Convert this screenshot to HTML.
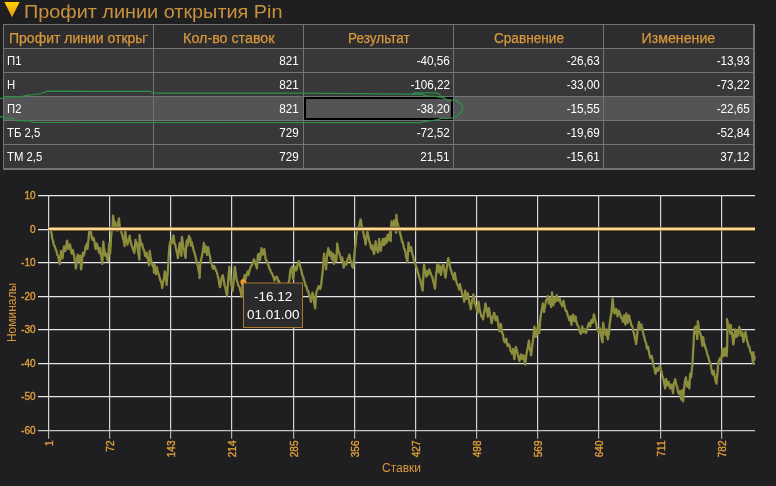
<!DOCTYPE html>
<html><head><meta charset="utf-8"><title>chart</title>
<style>
html,body{margin:0;padding:0;}
body{width:776px;height:486px;overflow:hidden;background:#1f1f21;font-family:"Liberation Sans",sans-serif;position:relative;}
.abs{position:absolute;}
#title{left:24px;top:0px;font-size:18.5px;line-height:24px;color:#c8923c;white-space:nowrap;}
#tbl{left:3px;top:24px;width:752px;height:146px;background:#737373;}
.cell{position:absolute;height:23px;line-height:23px;font-size:13px;white-space:nowrap;overflow:hidden;box-sizing:border-box;}
.h{background:#2d2d30;color:#d9983a;text-align:center;font-size:14px;line-height:27px;-webkit-text-stroke:0.25px #d9983a;}
.b{background:#38383b;color:#ffffff;text-align:right;padding-right:3px;}
.b.first{text-align:left;padding-left:3px;}
.sel{background:#545457;}
svg{position:absolute;left:0;top:0;will-change:transform;}
#tbl,#title{will-change:transform;}
.yl{font-size:10px;fill:#dc9c3c;text-anchor:end;stroke:#dc9c3c;stroke-width:0.4px;}
.xl{font-size:10px;fill:#dc9c3c;text-anchor:end;stroke:#dc9c3c;stroke-width:0.4px;}
</style></head><body>

<svg width="776" height="486" viewBox="0 0 776 486" style="z-index:0"><defs><linearGradient id="tg" x1="0" y1="0" x2="0" y2="1"><stop offset="0" stop-color="#ffd200"/><stop offset="1" stop-color="#e79a10"/></linearGradient></defs><path d="M4.4 2 L19.6 2 L12 17.2 Z" fill="url(#tg)"/></svg>
<div id="title" class="abs"><span style="display:inline-block;transform:scaleX(1.073);transform-origin:left center;">Профит линии открытия Pin</span></div>
<div id="tbl" class="abs">
<div class="cell h" style="left:1px;top:1px;width:149px;text-align:left;padding-left:5px;"><div style="width:138.5px;overflow:hidden;height:23px;"><span style="display:inline-block;transform:scaleX(1.0);transform-origin:left center;">Профит линии открытия Pin</span></div></div>
<div class="cell h" style="left:151px;top:1px;width:149px;"><span style="display:inline-block;transform:scaleX(1.02);transform-origin:center center;">Кол-во ставок</span></div>
<div class="cell h" style="left:301px;top:1px;width:149px;"><span style="display:inline-block;transform:scaleX(0.966);transform-origin:center center;">Результат</span></div>
<div class="cell h" style="left:451px;top:1px;width:149px;"><span style="display:inline-block;transform:scaleX(0.975);transform-origin:center center;">Сравнение</span></div>
<div class="cell h" style="left:601px;top:1px;width:149px;"><span style="display:inline-block;transform:scaleX(1.012);transform-origin:center center;">Изменение</span></div>
<div class="cell b first" style="left:1px;top:25px;width:149px;"><span style="display:inline-block;transform:scaleX(0.87);transform-origin:left center;">П1</span></div>
<div class="cell b" style="left:151px;top:25px;width:149px;padding-right:4px;"><span style="display:inline-block;transform:scaleX(0.9);transform-origin:right center;">821</span></div>
<div class="cell b" style="left:301px;top:25px;width:149px;"><span style="display:inline-block;transform:scaleX(0.9);transform-origin:right center;">-40,56</span></div>
<div class="cell b" style="left:451px;top:25px;width:149px;"><span style="display:inline-block;transform:scaleX(0.9);transform-origin:right center;">-26,63</span></div>
<div class="cell b" style="left:601px;top:25px;width:149px;"><span style="display:inline-block;transform:scaleX(0.9);transform-origin:right center;">-13,93</span></div>
<div class="cell b first" style="left:1px;top:49px;width:149px;"><span style="display:inline-block;transform:scaleX(0.87);transform-origin:left center;">Н</span></div>
<div class="cell b" style="left:151px;top:49px;width:149px;padding-right:4px;"><span style="display:inline-block;transform:scaleX(0.9);transform-origin:right center;">821</span></div>
<div class="cell b" style="left:301px;top:49px;width:149px;"><span style="display:inline-block;transform:scaleX(0.9);transform-origin:right center;">-106,22</span></div>
<div class="cell b" style="left:451px;top:49px;width:149px;"><span style="display:inline-block;transform:scaleX(0.9);transform-origin:right center;">-33,00</span></div>
<div class="cell b" style="left:601px;top:49px;width:149px;"><span style="display:inline-block;transform:scaleX(0.9);transform-origin:right center;">-73,22</span></div>
<div class="cell b first sel" style="left:1px;top:73px;width:149px;"><span style="display:inline-block;transform:scaleX(0.87);transform-origin:left center;">П2</span></div>
<div class="cell b sel" style="left:151px;top:73px;width:149px;padding-right:4px;"><span style="display:inline-block;transform:scaleX(0.9);transform-origin:right center;">821</span></div>
<div class="cell b sel" style="left:301px;top:73px;width:149px;"><span style="display:inline-block;transform:scaleX(0.9);transform-origin:right center;">-38,20</span></div>
<div class="cell b sel" style="left:451px;top:73px;width:149px;"><span style="display:inline-block;transform:scaleX(0.9);transform-origin:right center;">-15,55</span></div>
<div class="cell b sel" style="left:601px;top:73px;width:149px;"><span style="display:inline-block;transform:scaleX(0.9);transform-origin:right center;">-22,65</span></div>
<div class="cell b first" style="left:1px;top:97px;width:149px;"><span style="display:inline-block;transform:scaleX(0.87);transform-origin:left center;">ТБ 2,5</span></div>
<div class="cell b" style="left:151px;top:97px;width:149px;padding-right:4px;"><span style="display:inline-block;transform:scaleX(0.9);transform-origin:right center;">729</span></div>
<div class="cell b" style="left:301px;top:97px;width:149px;"><span style="display:inline-block;transform:scaleX(0.9);transform-origin:right center;">-72,52</span></div>
<div class="cell b" style="left:451px;top:97px;width:149px;"><span style="display:inline-block;transform:scaleX(0.9);transform-origin:right center;">-19,69</span></div>
<div class="cell b" style="left:601px;top:97px;width:149px;"><span style="display:inline-block;transform:scaleX(0.9);transform-origin:right center;">-52,84</span></div>
<div class="cell b first" style="left:1px;top:121px;width:149px;"><span style="display:inline-block;transform:scaleX(0.87);transform-origin:left center;">ТМ 2,5</span></div>
<div class="cell b" style="left:151px;top:121px;width:149px;padding-right:4px;"><span style="display:inline-block;transform:scaleX(0.9);transform-origin:right center;">729</span></div>
<div class="cell b" style="left:301px;top:121px;width:149px;"><span style="display:inline-block;transform:scaleX(0.9);transform-origin:right center;">21,51</span></div>
<div class="cell b" style="left:451px;top:121px;width:149px;"><span style="display:inline-block;transform:scaleX(0.9);transform-origin:right center;">-15,61</span></div>
<div class="cell b" style="left:601px;top:121px;width:149px;"><span style="display:inline-block;transform:scaleX(0.9);transform-origin:right center;">37,12</span></div>
</div>
<div class="abs" style="left:304px;top:97px;width:149px;height:23px;box-sizing:border-box;border:2px solid #000;"></div>
<svg width="776" height="486" viewBox="0 0 776 486" style="z-index:2">
<defs><linearGradient id="zg" x1="0" y1="0" x2="0" y2="1"><stop offset="0" stop-color="#2a2218"/><stop offset="0.1" stop-color="#5a3e14"/><stop offset="0.2" stop-color="#cf9a50"/><stop offset="0.34" stop-color="#f6d090"/><stop offset="0.5" stop-color="#fff0c4"/><stop offset="0.66" stop-color="#f6d090"/><stop offset="0.8" stop-color="#cf9a50"/><stop offset="0.9" stop-color="#5a3e14"/><stop offset="1" stop-color="#2a2218"/></linearGradient></defs>
<line x1="38" x2="755" y1="195.58" y2="195.58" stroke="#e6e6e6" stroke-width="1.16"/>
<text class="yl" x="35.5" y="199.0">10</text>
<line x1="38" x2="755" y1="229.58" y2="229.58" stroke="#e6e6e6" stroke-width="1.16"/>
<text class="yl" x="35.5" y="233.0">0</text>
<line x1="38" x2="755" y1="262.58" y2="262.58" stroke="#e6e6e6" stroke-width="1.16"/>
<text class="yl" x="35.5" y="266.0">-10</text>
<line x1="38" x2="755" y1="296.58" y2="296.58" stroke="#e6e6e6" stroke-width="1.16"/>
<text class="yl" x="35.5" y="300.0">-20</text>
<line x1="38" x2="755" y1="329.58" y2="329.58" stroke="#e6e6e6" stroke-width="1.16"/>
<text class="yl" x="35.5" y="333.0">-30</text>
<line x1="38" x2="755" y1="363.58" y2="363.58" stroke="#e6e6e6" stroke-width="1.16"/>
<text class="yl" x="35.5" y="367.0">-40</text>
<line x1="38" x2="755" y1="396.58" y2="396.58" stroke="#e6e6e6" stroke-width="1.16"/>
<text class="yl" x="35.5" y="400.0">-50</text>
<line x1="38" x2="755" y1="430.58" y2="430.58" stroke="#c6c6c6" stroke-width="1.16"/>
<text class="yl" x="35.5" y="434.0">-60</text>
<line x1="48.60" x2="48.60" y1="195" y2="431" stroke="#d4d4d4" stroke-width="1.2"/>
<line x1="48.60" x2="48.60" y1="431" y2="438.8" stroke="#b0b0b0" stroke-width="1.2"/>
<text class="xl" transform="translate(52.6 440.5) rotate(-90)" x="0" y="0">1</text>
<line x1="109.60" x2="109.60" y1="195" y2="431" stroke="#d4d4d4" stroke-width="1.2"/>
<line x1="109.60" x2="109.60" y1="431" y2="438.8" stroke="#b0b0b0" stroke-width="1.2"/>
<text class="xl" transform="translate(113.6 440.5) rotate(-90)" x="0" y="0">72</text>
<line x1="170.60" x2="170.60" y1="195" y2="431" stroke="#d4d4d4" stroke-width="1.2"/>
<line x1="170.60" x2="170.60" y1="431" y2="438.8" stroke="#b0b0b0" stroke-width="1.2"/>
<text class="xl" transform="translate(174.6 440.5) rotate(-90)" x="0" y="0">143</text>
<line x1="231.60" x2="231.60" y1="195" y2="431" stroke="#d4d4d4" stroke-width="1.2"/>
<line x1="231.60" x2="231.60" y1="431" y2="438.8" stroke="#b0b0b0" stroke-width="1.2"/>
<text class="xl" transform="translate(235.6 440.5) rotate(-90)" x="0" y="0">214</text>
<line x1="293.60" x2="293.60" y1="195" y2="431" stroke="#d4d4d4" stroke-width="1.2"/>
<line x1="293.60" x2="293.60" y1="431" y2="438.8" stroke="#b0b0b0" stroke-width="1.2"/>
<text class="xl" transform="translate(297.6 440.5) rotate(-90)" x="0" y="0">285</text>
<line x1="354.60" x2="354.60" y1="195" y2="431" stroke="#d4d4d4" stroke-width="1.2"/>
<line x1="354.60" x2="354.60" y1="431" y2="438.8" stroke="#b0b0b0" stroke-width="1.2"/>
<text class="xl" transform="translate(358.6 440.5) rotate(-90)" x="0" y="0">356</text>
<line x1="415.60" x2="415.60" y1="195" y2="431" stroke="#d4d4d4" stroke-width="1.2"/>
<line x1="415.60" x2="415.60" y1="431" y2="438.8" stroke="#b0b0b0" stroke-width="1.2"/>
<text class="xl" transform="translate(419.6 440.5) rotate(-90)" x="0" y="0">427</text>
<line x1="476.60" x2="476.60" y1="195" y2="431" stroke="#d4d4d4" stroke-width="1.2"/>
<line x1="476.60" x2="476.60" y1="431" y2="438.8" stroke="#b0b0b0" stroke-width="1.2"/>
<text class="xl" transform="translate(480.6 440.5) rotate(-90)" x="0" y="0">498</text>
<line x1="537.60" x2="537.60" y1="195" y2="431" stroke="#d4d4d4" stroke-width="1.2"/>
<line x1="537.60" x2="537.60" y1="431" y2="438.8" stroke="#b0b0b0" stroke-width="1.2"/>
<text class="xl" transform="translate(541.6 440.5) rotate(-90)" x="0" y="0">569</text>
<line x1="598.60" x2="598.60" y1="195" y2="431" stroke="#d4d4d4" stroke-width="1.2"/>
<line x1="598.60" x2="598.60" y1="431" y2="438.8" stroke="#b0b0b0" stroke-width="1.2"/>
<text class="xl" transform="translate(602.6 440.5) rotate(-90)" x="0" y="0">640</text>
<line x1="660.60" x2="660.60" y1="195" y2="431" stroke="#d4d4d4" stroke-width="1.2"/>
<line x1="660.60" x2="660.60" y1="431" y2="438.8" stroke="#b0b0b0" stroke-width="1.2"/>
<text class="xl" transform="translate(664.6 440.5) rotate(-90)" x="0" y="0">711</text>
<line x1="721.60" x2="721.60" y1="195" y2="431" stroke="#d4d4d4" stroke-width="1.2"/>
<line x1="721.60" x2="721.60" y1="431" y2="438.8" stroke="#b0b0b0" stroke-width="1.2"/>
<text class="xl" transform="translate(725.6 440.5) rotate(-90)" x="0" y="0">782</text>
<path d="M49.6 229.6 L50.5 229.6 L51.3 232.2 L51.8 235.2 L52.1 238.2 L53.0 240.6 L53.3 242.6 L53.9 245.2 L54.7 246.0 L55.5 249.1 L56.5 250.9 L57.3 254.9 L57.9 255.6 L58.2 255.8 L59.0 261.2 L59.7 263.9 L60.8 254.1 L61.0 250.9 L61.6 252.8 L62.5 258.3 L63.4 251.2 L64.0 246.3 L65.3 250.9 L65.9 248.4 L66.8 241.8 L67.2 240.7 L67.7 244.5 L68.4 249.1 L69.4 247.0 L69.9 244.4 L70.2 245.6 L71.1 250.9 L71.8 253.7 L72.7 250.0 L73.7 253.8 L74.6 259.3 L75.1 261.1 L75.4 263.1 L75.8 268.5 L76.3 266.1 L77.1 257.9 L77.7 254.6 L78.0 256.8 L78.9 258.8 L79.2 261.1 L79.7 258.6 L80.1 255.6 L80.6 262.1 L81.0 269.4 L81.5 267.0 L82.3 256.7 L82.9 252.8 L83.2 254.8 L83.8 255.6 L84.9 250.8 L85.7 246.3 L86.6 244.9 L87.0 243.5 L87.5 249.1 L88.3 241.4 L89.4 229.6 L90.1 231.8 L90.7 231.5 L90.9 232.0 L91.8 237.8 L92.5 239.8 L93.6 238.0 L94.4 241.2 L95.2 247.2 L95.8 249.1 L96.1 246.7 L96.8 243.5 L97.8 246.8 L98.7 251.3 L99.2 252.8 L99.6 249.6 L99.9 248.2 L100.4 252.4 L101.3 256.4 L102.3 263.9 L103.0 247.1 L103.3 241.7 L103.9 247.4 L104.7 251.6 L105.1 255.6 L105.6 255.1 L106.0 253.7 L106.5 254.8 L107.3 259.3 L107.9 261.1 L108.2 256.8 L109.2 243.5 L110.1 253.7 L110.8 242.9 L111.0 237.0 L111.6 232.6 L112.5 227.8 L113.1 215.7 L113.3 217.3 L114.4 227.8 L115.3 222.2 L115.9 225.5 L116.8 228.2 L117.2 230.6 L117.7 227.8 L118.5 221.0 L119.0 218.5 L119.4 223.4 L120.0 228.1 L121.0 231.2 L122.1 234.3 L122.8 237.9 L123.1 238.4 L123.7 240.4 L124.1 243.0 L124.6 246.1 L125.2 231.2 L125.4 232.2 L126.0 237.4 L126.3 239.7 L126.7 242.0 L127.1 242.3 L127.4 244.6 L128.2 241.5 L128.9 238.6 L129.8 235.8 L130.3 240.5 L130.6 240.9 L131.3 244.6 L132.4 247.2 L133.4 250.8 L134.0 251.2 L134.4 252.8 L134.9 247.6 L135.5 239.9 L135.8 241.1 L136.3 245.6 L136.6 245.1 L137.0 243.0 L137.7 249.2 L138.6 254.9 L139.4 259.5 L139.6 234.8 L140.1 239.0 L140.4 240.5 L141.1 245.1 L141.9 243.6 L142.7 247.2 L143.7 249.7 L144.4 251.3 L144.7 253.9 L145.2 255.7 L145.8 256.4 L146.1 254.5 L146.6 252.8 L147.0 256.5 L147.3 258.0 L147.8 258.3 L148.3 261.1 L148.7 263.6 L149.1 265.2 L149.7 250.8 L150.4 255.9 L151.1 260.1 L152.0 264.2 L153.0 266.8 L153.8 264.2 L153.9 272.5 L154.9 265.3 L155.6 271.3 L156.0 274.1 L156.4 270.0 L157.0 267.4 L157.3 269.5 L158.0 272.5 L159.1 275.6 L160.1 279.7 L160.8 281.6 L161.1 281.8 L161.6 283.7 L162.2 288.0 L162.5 286.1 L162.9 282.8 L163.3 280.5 L163.9 278.7 L164.2 277.1 L164.7 271.5 L165.1 272.0 L165.8 276.6 L166.6 284.9 L167.3 275.6 L167.7 273.5 L168.0 268.4 L168.4 261.2 L169.0 251.8 L169.5 245.6 L170.3 241.5 L171.0 244.1 L171.6 239.4 L172.0 240.5 L172.6 243.0 L173.4 235.3 L173.7 236.7 L174.1 240.5 L174.5 243.2 L174.8 243.6 L175.4 245.5 L175.7 247.2 L176.5 250.8 L177.2 253.9 L177.9 258.0 L178.8 250.8 L179.6 243.0 L180.3 248.2 L180.6 249.1 L181.0 252.8 L181.4 255.9 L181.9 236.9 L182.3 239.6 L182.7 242.5 L183.4 247.2 L184.1 249.7 L184.9 254.9 L185.6 258.0 L186.0 248.7 L186.8 240.5 L187.5 245.6 L188.0 242.5 L188.3 240.9 L188.9 235.8 L189.2 237.0 L189.6 240.5 L190.3 238.4 L190.9 245.6 L191.7 242.0 L192.4 245.6 L192.7 245.6 L193.2 248.2 L193.5 250.3 L194.2 251.8 L195.3 255.9 L196.3 260.1 L197.0 263.8 L197.3 264.2 L197.8 265.0 L198.3 268.3 L198.7 270.7 L199.4 273.4 L199.6 278.0 L200.2 265.0 L201.1 259.4 L202.1 255.1 L203.0 250.2 L203.9 242.8 L204.8 252.0 L205.6 249.7 L206.1 246.5 L206.4 248.8 L207.0 254.8 L207.3 253.9 L208.2 247.4 L209.0 252.9 L209.4 254.8 L209.9 255.9 L210.8 262.0 L211.3 263.1 L211.6 262.9 L212.5 267.7 L213.2 268.7 L214.1 265.9 L215.1 267.5 L215.9 270.6 L216.8 272.0 L217.8 276.1 L218.5 278.7 L219.4 284.5 L220.0 287.2 L221.1 281.8 L221.5 278.9 L222.0 277.0 L222.8 275.2 L223.7 279.5 L224.3 283.5 L224.5 285.7 L225.4 287.3 L226.3 292.8 L227.0 295.6 L228.0 283.7 L228.5 276.1 L228.9 271.8 L229.4 266.9 L229.7 270.2 L230.7 279.8 L231.4 285.2 L232.3 288.3 L232.6 290.9 L233.2 285.9 L234.1 276.1 L234.8 266.9 L235.8 272.9 L236.3 278.0 L236.6 279.8 L237.5 281.9 L238.2 285.4 L239.2 286.5 L240.2 289.8 L240.9 292.8 L241.5 296.3 L241.8 294.3 L242.6 284.7 L243.0 282.4 L243.5 280.7 L244.4 275.9 L244.8 275.0 L245.2 277.8 L245.7 278.7 L246.1 276.2 L247.0 274.8 L247.6 271.3 L248.5 275.0 L249.5 270.4 L250.4 267.6 L251.3 265.6 L252.2 264.8 L253.0 261.8 L254.1 259.3 L254.7 260.9 L255.6 264.8 L256.4 266.2 L256.9 268.5 L257.3 263.5 L257.8 255.6 L258.2 254.3 L259.3 253.7 L260.0 260.2 L260.7 255.2 L261.5 248.2 L262.5 253.5 L263.0 254.6 L263.3 252.1 L264.3 249.1 L265.1 254.3 L265.6 259.3 L265.9 260.1 L266.8 260.3 L267.0 261.1 L267.6 263.7 L268.5 265.1 L268.9 266.7 L269.4 269.0 L270.2 269.5 L270.7 271.3 L271.1 272.5 L272.0 273.3 L272.6 275.0 L273.7 277.5 L274.4 280.6 L275.4 277.7 L276.3 276.9 L277.1 277.0 L278.0 280.7 L278.5 280.6 L278.9 280.8 L279.7 284.1 L280.6 284.8 L280.9 286.1 L281.4 287.0 L282.3 286.7 L283.2 289.4 L283.7 288.9 L284.0 288.2 L284.9 288.7 L285.7 286.9 L286.5 287.0 L287.5 284.2 L288.3 283.3 L289.3 280.6 L290.2 271.3 L290.9 268.4 L291.8 268.5 L292.0 266.7 L292.6 274.1 L293.0 278.7 L293.5 276.3 L294.4 268.5 L294.8 266.7 L295.2 268.2 L296.3 270.4 L297.0 268.0 L297.6 263.9 L298.9 261.1 L299.5 263.1 L300.4 267.6 L301.3 270.1 L302.2 275.0 L303.0 276.5 L304.1 280.6 L304.7 281.9 L305.6 286.1 L305.9 286.1 L306.4 286.3 L307.3 290.5 L307.8 290.7 L308.2 290.9 L309.0 295.0 L309.6 296.3 L309.9 296.2 L310.9 301.9 L311.6 296.4 L312.4 292.6 L313.3 296.1 L313.7 299.1 L314.2 302.8 L315.2 308.3 L316.1 293.5 L316.8 290.9 L317.4 289.8 L318.5 286.3 L318.9 286.1 L319.4 287.9 L320.4 288.9 L321.1 284.9 L321.5 281.5 L322.0 277.1 L322.8 270.4 L323.7 258.4 L324.1 253.7 L324.5 257.9 L325.2 261.1 L326.1 269.4 L327.0 255.6 L328.0 250.6 L328.3 248.2 L328.8 250.6 L329.6 255.6 L330.7 251.8 L331.4 256.9 L332.0 259.3 L332.3 256.7 L333.0 253.7 L333.9 263.9 L334.8 255.6 L335.7 258.6 L336.3 261.1 L336.6 255.8 L337.2 243.5 L338.5 251.8 L339.2 252.5 L340.0 255.6 L340.9 258.6 L341.3 261.1 L341.8 260.3 L342.2 257.4 L342.6 259.4 L343.7 267.6 L344.4 264.1 L345.0 262.0 L346.3 264.8 L347.0 262.5 L347.8 258.3 L348.7 257.3 L349.3 254.6 L349.5 255.2 L350.6 261.1 L351.3 262.6 L351.9 264.8 L352.1 266.3 L353.0 267.6 L353.9 259.3 L354.9 249.3 L355.6 244.4 L356.0 239.0 L356.4 235.0 L357.0 231.8 L357.3 230.7 L357.7 227.2 L358.2 227.4 L358.6 229.7 L359.0 228.1 L359.6 224.1 L359.9 222.0 L360.6 219.4 L361.6 224.6 L362.5 229.7 L363.5 233.3 L364.2 237.6 L364.5 238.0 L365.1 240.1 L365.6 244.7 L365.9 242.4 L366.6 235.9 L367.4 231.8 L368.4 237.0 L369.4 241.1 L370.4 244.7 L371.1 248.2 L371.4 248.8 L371.9 246.4 L372.5 245.2 L372.8 248.6 L373.2 251.4 L373.7 252.0 L374.0 254.0 L374.5 251.7 L374.9 248.3 L375.6 241.1 L376.3 246.2 L377.1 249.3 L377.9 252.4 L378.7 246.2 L379.2 239.0 L379.7 244.0 L380.0 245.2 L380.7 250.9 L381.4 246.2 L382.3 241.1 L383.1 239.0 L383.8 245.2 L384.5 239.0 L384.9 241.4 L385.4 243.7 L385.7 240.2 L386.2 238.0 L386.6 240.9 L386.9 242.1 L387.6 234.9 L388.4 240.1 L389.3 235.9 L390.0 231.8 L390.7 241.1 L391.1 225.6 L391.6 221.5 L392.1 227.2 L392.8 223.6 L393.4 228.7 L394.1 220.5 L394.6 225.6 L395.5 222.5 L396.0 232.8 L396.4 214.8 L396.9 221.1 L397.2 222.5 L397.8 223.4 L398.2 225.6 L398.7 228.4 L399.3 229.7 L399.5 230.2 L400.3 233.9 L401.3 238.0 L402.1 241.9 L402.4 241.6 L403.0 243.1 L403.4 245.2 L403.8 247.6 L404.4 249.3 L404.7 249.1 L405.5 252.9 L406.1 257.4 L406.4 257.3 L407.4 262.0 L408.2 248.6 L408.5 242.6 L409.0 246.4 L409.8 250.9 L410.9 247.0 L411.6 250.0 L412.2 253.5 L413.3 256.9 L413.7 259.1 L414.2 261.6 L415.0 262.6 L415.6 264.6 L415.9 266.6 L416.8 267.9 L417.4 271.1 L418.5 274.4 L419.3 277.6 L420.2 279.8 L421.1 284.1 L421.9 287.3 L422.6 290.6 L423.3 277.6 L423.7 270.6 L424.1 264.6 L424.5 267.7 L425.2 270.2 L426.3 276.7 L427.2 271.1 L428.1 274.8 L428.8 271.4 L429.4 269.3 L429.7 270.9 L430.7 273.0 L431.4 275.6 L432.2 276.7 L433.2 281.3 L433.7 283.1 L434.0 283.9 L435.0 288.7 L435.9 275.7 L436.6 271.5 L437.4 263.7 L438.3 270.0 L438.7 272.0 L439.2 267.5 L439.6 265.6 L440.0 269.3 L440.9 274.8 L441.9 268.3 L442.6 265.6 L443.3 264.6 L444.4 271.1 L445.2 276.5 L445.6 277.6 L446.1 272.9 L446.7 268.3 L446.9 267.7 L447.8 260.3 L448.3 258.1 L448.7 260.4 L449.5 263.4 L449.8 265.6 L450.4 268.7 L451.1 270.2 L452.1 273.9 L452.6 274.8 L453.0 275.7 L453.9 279.4 L454.8 273.0 L455.6 278.3 L456.3 281.3 L457.3 284.8 L457.8 285.0 L458.1 285.2 L459.1 289.6 L460.0 284.1 L460.7 288.2 L461.5 290.6 L462.5 295.3 L462.8 295.2 L463.3 296.5 L464.3 301.7 L465.2 290.6 L465.9 296.2 L466.5 298.9 L466.8 296.6 L467.8 293.3 L468.5 297.1 L469.3 302.6 L470.2 305.6 L470.7 309.1 L471.1 307.9 L472.0 300.7 L472.8 298.0 L473.3 294.3 L473.7 295.6 L474.5 302.8 L474.8 303.5 L475.4 304.9 L476.3 308.1 L477.1 310.3 L477.6 312.8 L478.0 308.6 L478.5 301.7 L478.8 303.0 L479.7 310.0 L480.0 310.9 L480.6 312.4 L481.3 316.5 L482.3 316.7 L483.1 319.3 L484.1 312.8 L484.9 308.0 L485.4 303.5 L485.7 304.5 L486.6 310.5 L486.9 310.9 L487.5 313.8 L487.8 316.5 L488.3 312.9 L488.7 308.1 L489.2 309.6 L490.0 314.6 L490.9 318.7 L491.5 323.0 L491.8 322.8 L492.8 316.5 L493.5 315.4 L494.1 312.8 L494.4 313.2 L495.2 319.1 L495.6 320.2 L496.1 318.2 L497.0 316.5 L497.8 320.9 L498.3 324.8 L498.7 327.2 L499.6 331.3 L500.4 326.8 L500.7 323.9 L501.2 326.0 L502.0 332.2 L503.0 334.7 L503.3 336.9 L503.8 340.0 L504.8 342.4 L505.6 341.8 L506.3 338.7 L507.3 345.4 L507.6 346.1 L508.1 344.9 L508.9 344.3 L509.9 346.9 L510.4 349.8 L510.7 351.1 L511.6 351.7 L511.9 353.5 L512.5 351.9 L513.1 348.9 L514.2 357.5 L514.4 359.1 L515.0 353.4 L515.9 347.0 L516.8 349.8 L517.4 352.6 L518.7 358.1 L519.4 360.9 L519.6 360.9 L520.2 357.5 L521.1 354.4 L521.9 356.8 L522.4 359.1 L522.8 358.9 L523.7 355.4 L524.5 361.1 L525.2 364.6 L526.3 355.4 L527.1 350.4 L527.6 348.0 L528.0 346.4 L528.9 340.6 L529.7 347.8 L530.0 349.8 L530.6 351.6 L531.1 355.4 L531.4 353.5 L532.2 346.1 L533.1 339.3 L533.5 335.0 L534.0 330.2 L534.4 326.7 L534.9 331.3 L535.7 336.9 L536.6 334.4 L536.9 333.1 L537.5 328.1 L538.1 324.8 L539.3 333.1 L540.0 322.0 L540.9 314.7 L541.5 310.9 L541.8 310.2 L542.8 303.5 L543.5 309.1 L544.1 311.9 L544.3 309.5 L545.2 305.4 L546.1 300.5 L546.5 299.8 L546.9 299.4 L547.8 296.1 L548.9 303.5 L549.5 300.1 L550.2 298.0 L551.1 307.2 L552.0 292.4 L553.0 301.3 L553.3 305.4 L553.8 302.8 L554.4 298.0 L554.7 297.7 L555.7 301.7 L556.4 296.4 L556.7 295.2 L557.3 298.4 L558.1 300.7 L559.0 300.0 L559.4 298.0 L559.9 298.9 L560.7 303.5 L561.6 303.9 L562.2 306.3 L563.5 300.7 L564.2 304.5 L565.0 308.1 L565.9 311.1 L566.3 310.9 L566.8 311.4 L567.8 315.6 L568.5 317.2 L569.3 320.2 L570.2 316.6 L570.6 316.5 L571.1 322.0 L571.5 324.8 L571.9 320.8 L573.0 314.6 L573.7 317.6 L574.3 321.1 L574.5 320.8 L575.6 316.5 L576.2 321.1 L577.0 323.9 L578.0 326.0 L578.5 326.7 L578.8 327.6 L579.8 332.2 L580.6 332.6 L580.9 333.9 L581.4 332.0 L582.2 326.5 L583.3 332.0 L584.0 330.2 L584.6 329.3 L585.9 333.0 L586.6 331.4 L587.4 327.4 L588.3 325.3 L588.9 322.8 L589.2 322.8 L590.2 326.5 L590.9 322.3 L591.5 320.0 L591.8 321.7 L592.6 322.8 L593.5 317.5 L593.9 314.4 L594.3 315.9 L595.2 320.0 L596.3 324.6 L596.9 327.9 L597.6 329.3 L598.9 333.0 L599.5 329.8 L600.0 328.3 L600.4 331.8 L601.3 336.7 L602.1 341.1 L602.6 342.2 L603.1 322.8 L603.8 327.3 L604.4 330.2 L605.6 334.8 L606.5 329.3 L607.3 336.2 L607.8 339.4 L608.1 337.0 L608.7 334.8 L609.0 332.0 L609.6 324.6 L610.6 317.2 L611.5 312.6 L612.6 298.7 L613.3 305.7 L613.7 310.7 L614.2 312.9 L614.8 313.5 L616.1 308.9 L616.8 311.7 L617.6 316.3 L618.5 311.5 L618.9 310.7 L619.3 312.5 L620.2 314.4 L621.1 317.6 L621.7 318.1 L621.9 317.9 L623.0 321.9 L623.7 317.3 L624.1 315.4 L624.5 319.2 L625.4 324.6 L626.3 313.5 L627.1 318.8 L627.6 322.8 L628.0 321.9 L629.1 315.4 L629.7 319.2 L630.4 320.9 L631.4 325.4 L631.9 325.6 L632.3 326.4 L633.3 331.1 L634.0 333.3 L634.6 336.7 L635.7 341.4 L636.1 344.1 L636.6 340.9 L637.4 332.0 L638.3 326.5 L638.9 321.9 L639.2 322.7 L640.2 329.3 L640.9 326.1 L641.5 324.6 L641.8 326.7 L642.6 329.6 L643.0 332.0 L643.5 334.5 L644.4 337.6 L645.2 341.4 L645.7 342.2 L646.1 343.0 L647.0 348.7 L647.8 346.6 L648.1 346.9 L648.7 350.2 L649.4 354.3 L650.4 358.1 L650.7 358.0 L651.2 356.5 L651.9 356.1 L653.1 363.5 L653.8 366.8 L654.4 368.1 L655.6 373.7 L656.4 369.1 L656.9 368.1 L657.3 370.1 L658.1 370.9 L659.0 369.1 L659.6 366.3 L660.0 366.1 L660.7 369.3 L661.5 371.7 L662.4 376.8 L662.8 377.3 L663.3 378.3 L664.1 382.8 L665.2 388.4 L666.1 379.1 L666.8 381.3 L667.4 385.6 L668.7 381.9 L669.3 385.2 L670.2 388.4 L671.1 386.7 L671.5 384.7 L671.9 386.1 L673.0 393.0 L673.9 382.8 L674.5 382.3 L675.2 379.1 L676.3 384.7 L677.1 386.7 L677.6 389.3 L678.0 391.6 L678.9 393.9 L679.7 393.1 L680.0 391.1 L680.5 393.9 L681.3 399.5 L682.2 390.2 L683.1 401.3 L684.1 388.4 L685.0 381.0 L685.9 377.3 L686.6 383.1 L687.2 386.5 L688.1 381.9 L689.3 388.4 L690.2 373.6 L691.1 377.3 L691.7 371.5 L692.4 364.5 L693.5 345.0 L693.9 335.6 L694.4 328.4 L695.2 327.6 L695.5 326.3 L696.0 333.6 L696.5 327.4 L696.9 334.1 L697.3 339.2 L697.8 321.2 L698.8 327.4 L699.6 331.5 L700.4 334.3 L700.6 334.6 L701.2 337.0 L701.6 339.7 L702.1 343.6 L702.5 345.9 L703.2 337.2 L703.9 342.8 L704.7 344.7 L705.3 347.0 L705.5 348.3 L706.4 350.0 L706.8 352.1 L707.3 354.5 L708.4 357.3 L709.0 359.8 L709.9 362.4 L710.9 365.5 L711.5 369.9 L712.4 373.8 L712.8 374.5 L713.3 371.4 L713.7 370.8 L714.2 374.3 L715.2 379.1 L715.9 382.1 L716.5 383.7 L716.7 380.2 L717.4 373.6 L718.3 362.4 L718.7 361.4 L719.3 360.0 L719.7 358.3 L720.4 360.4 L721.1 359.0 L721.8 355.2 L722.5 349.0 L722.8 352.3 L723.3 356.2 L723.6 352.1 L724.1 349.0 L724.5 353.1 L725.0 355.2 L725.4 351.3 L725.9 348.0 L726.2 352.9 L726.6 356.2 L727.2 345.9 L727.4 325.3 L726.9 319.1 L727.9 323.2 L728.7 330.5 L729.5 325.3 L730.3 333.6 L730.7 324.8 L731.5 330.5 L732.4 335.6 L733.1 342.9 L733.4 344.4 L734.1 338.7 L734.8 332.7 L735.1 329.4 L735.7 332.4 L736.2 337.2 L736.6 335.6 L737.2 330.5 L738.2 335.6 L739.3 326.9 L740.0 330.9 L740.3 331.5 L740.9 332.7 L741.3 335.6 L741.7 335.4 L742.4 332.5 L743.4 341.8 L744.4 335.6 L745.2 333.6 L745.5 332.0 L746.1 334.7 L746.5 337.7 L746.9 340.5 L747.5 341.8 L748.6 346.5 L749.1 347.0 L749.5 347.1 L750.4 351.9 L750.6 352.1 L751.2 352.9 L752.2 356.2 L753.0 363.4 L753.4 352.1 L753.8 356.6 L754.2 360.4 L754.7 356.2" fill="none" stroke="#8b8d3c" stroke-width="2.3" stroke-linejoin="round"/>
<rect x="48.5" y="226.8" width="706.5" height="4.3" fill="url(#zg)"/>
<line x1="109.60" x2="109.60" y1="227.2" y2="230.8" stroke="#ffffff" stroke-width="1.2" opacity="0.45"/>
<line x1="170.60" x2="170.60" y1="227.2" y2="230.8" stroke="#ffffff" stroke-width="1.2" opacity="0.45"/>
<line x1="231.60" x2="231.60" y1="227.2" y2="230.8" stroke="#ffffff" stroke-width="1.2" opacity="0.45"/>
<line x1="293.60" x2="293.60" y1="227.2" y2="230.8" stroke="#ffffff" stroke-width="1.2" opacity="0.45"/>
<line x1="354.60" x2="354.60" y1="227.2" y2="230.8" stroke="#ffffff" stroke-width="1.2" opacity="0.45"/>
<line x1="415.60" x2="415.60" y1="227.2" y2="230.8" stroke="#ffffff" stroke-width="1.2" opacity="0.45"/>
<line x1="476.60" x2="476.60" y1="227.2" y2="230.8" stroke="#ffffff" stroke-width="1.2" opacity="0.45"/>
<line x1="537.60" x2="537.60" y1="227.2" y2="230.8" stroke="#ffffff" stroke-width="1.2" opacity="0.45"/>
<line x1="598.60" x2="598.60" y1="227.2" y2="230.8" stroke="#ffffff" stroke-width="1.2" opacity="0.45"/>
<line x1="660.60" x2="660.60" y1="227.2" y2="230.8" stroke="#ffffff" stroke-width="1.2" opacity="0.45"/>
<line x1="721.60" x2="721.60" y1="227.2" y2="230.8" stroke="#ffffff" stroke-width="1.2" opacity="0.45"/>
<text x="401.5" y="472" font-size="12" fill="#d9983a" text-anchor="middle">Ставки</text>
<text transform="translate(15.5 312.5) rotate(-90)" font-size="12" fill="#d9983a" text-anchor="middle">Номиналы</text>
<circle cx="243.4" cy="282" r="3" fill="#e9a12c"/>
<rect x="243.5" y="283" width="59" height="44.5" fill="#2b2b2d" stroke="#a87a30" stroke-width="1"/>
<text x="273.2" y="301.2" font-size="13.5" fill="#fff" text-anchor="middle">-16.12</text>
<text x="273.2" y="319.2" font-size="13.5" fill="#fff" text-anchor="middle">01.01.00</text>
<path d="M0 98.4 L3.5 98.3 L4 96.8 L20 96.8 L27 95.4 L35 94.5 L41 93.5 L48 91.2 L150 91.4 L153 93 L300 93.2 L412 94.2 L414 92.9 L436 92.9 L439.5 94.5 L441.2 96.9 L445 98.4 L447.4 100.5 L451.5 100.6 L455.7 99.5 L457.7 102 L460.8 103.6 L462.4 106.2 L462.5 109.8 L460.8 112.9 L457.7 115.4 L454.6 117.5 L451.5 118.1 L441 118.3 L438 119.6 L435 120.1 L424 121.6 L420 122.6 L33 122.4 L30 120.8 L15 120.4 L13 118.6 L4 118.5 L3.5 116.8 L0 116.6 M412 94.2 L421.6 94.4 L426.8 95.8 L435 96.4 L441.2 97.4 L445.4 98.4" fill="none" stroke="#2d9048" stroke-width="1.25" stroke-linejoin="round"/>
</svg>
</body></html>
